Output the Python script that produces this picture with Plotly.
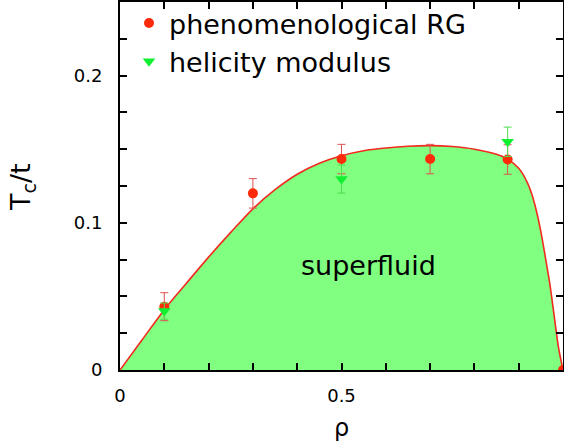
import plotly.graph_objects as go

# ---- data ----
curve_rho = [0, 0.05, 0.1, 0.15, 0.2, 0.25, 0.3, 0.35, 0.4, 0.45, 0.5, 0.55, 0.6, 0.65,
             0.7, 0.75, 0.8, 0.85, 0.875, 0.9, 0.92, 0.93, 0.94, 0.95, 0.96, 0.97, 0.98, 0.99, 1.0]
curve_tc = [0, 0.0205, 0.041, 0.059, 0.0767, 0.0935, 0.1095, 0.1225, 0.1330, 0.1405, 0.1456,
            0.149, 0.1508, 0.152, 0.1524, 0.1518, 0.1500, 0.1465, 0.1433, 0.137, 0.127, 0.119,
            0.108, 0.094, 0.077, 0.059, 0.037, 0.015, 0.0]

rg_rho = [0.1, 0.3, 0.5, 0.7, 0.875, 1.0]
rg_tc = [0.043, 0.120, 0.1433, 0.1433, 0.1430, 0.0]
rg_err = [0.0095, 0.010, 0.010, 0.010, 0.010, 0.0]

hel_rho = [0.1, 0.5, 0.875]
hel_tc = [0.0400, 0.1297, 0.1550]
hel_err = [0.0055, 0.0095, 0.0100]

x_tickvals = [0, 0.5, 1.0]
x_ticktext = ["0", "0.5", "1"]
x_minor_step = 0.1
y_tickvals = [0, 0.1, 0.2]
y_ticktext = ["0", "0.1", "0.2"]
y_minor_step = 0.025

# ---- layout geometry ----
W, H = 564, 448
ML, MR, MT, MB = 120, 1, 2, 78
PW, PH = W - ML - MR, H - MT - MB


def px(xp):
    return (xp - ML) / PW


def py(yp):
    return (H - MB - yp) / PH


SANS = "DejaVu Sans"

fig = go.Figure()

fig.add_trace(go.Scatter(
    x=curve_rho, y=curve_tc, mode="lines", fill="tozeroy",
    fillcolor="#80FF80", line=dict(color="#F22B1E", width=1.6, shape="spline", smoothing=0.8),
    showlegend=False, hoverinfo="skip"))

fig.add_trace(go.Scatter(
    x=rg_rho, y=rg_tc, mode="markers", name="phenomenological RG",
    marker=dict(symbol="circle", size=10, color="#FF2A0A"),
    error_y=dict(type="data", array=rg_err, color="#E05050", thickness=1, width=4)))

fig.add_trace(go.Scatter(
    x=hel_rho, y=hel_tc, mode="markers", name="helicity modulus",
    marker=dict(symbol="triangle-down", size=11, color="#10F030"),
    error_y=dict(type="data", array=hel_err, color="#50DD50", thickness=1, width=4)))

axis_common = dict(
    showline=True, linecolor="black", linewidth=2, mirror="ticks",
    ticks="inside", ticklen=7, tickwidth=1.5, tickcolor="black",
    showgrid=False, zeroline=False,
    tickfont=dict(family=SANS, size=18, color="black"),
    tickmode="array",
)

fig.update_xaxes(range=[0, 1.0], tickvals=x_tickvals, ticktext=x_ticktext,
                 ticklabelstandoff=8,
                 minor=dict(ticks="inside", ticklen=7, tickwidth=1.5, tickcolor="black",
                            tick0=0, dtick=x_minor_step, showgrid=False),
                 **axis_common)
fig.update_yaxes(range=[0, 0.25], tickvals=y_tickvals, ticktext=y_ticktext,
                 ticklabelstandoff=12,
                 minor=dict(ticks="inside", ticklen=7, tickwidth=1.5, tickcolor="black",
                            tick0=0, dtick=y_minor_step, showgrid=False),
                 **axis_common)

fig.update_layout(
    width=W, height=H,
    margin=dict(l=ML, r=MR, t=MT, b=MB, autoexpand=False),
    paper_bgcolor="white", plot_bgcolor="white",
    showlegend=True,
    legend=dict(x=px(129), y=py(-1), xanchor="left", yanchor="top",
                bgcolor="rgba(0,0,0,0)", borderwidth=0,
                font=dict(family=SANS, size=27, color="black"),
                itemwidth=30, tracegroupgap=0),
    annotations=[
        dict(text="superfluid", xref="paper", yref="paper", x=px(368), y=py(265),
             showarrow=False, xanchor="center", yanchor="middle",
             font=dict(family=SANS, size=27, color="black")),
        dict(text="T<sub>c</sub>/t", xref="paper", yref="paper", x=px(22), y=py(187),
             showarrow=False, xanchor="center", yanchor="middle", textangle=-90,
             font=dict(family=SANS, size=27, color="black")),
        dict(text="ρ", xref="paper", yref="paper", x=px(341), y=py(428),
             showarrow=False, xanchor="center", yanchor="middle",
             font=dict(family=SANS, size=24, color="black")),
    ],
)

fig.write_html("out.html")
